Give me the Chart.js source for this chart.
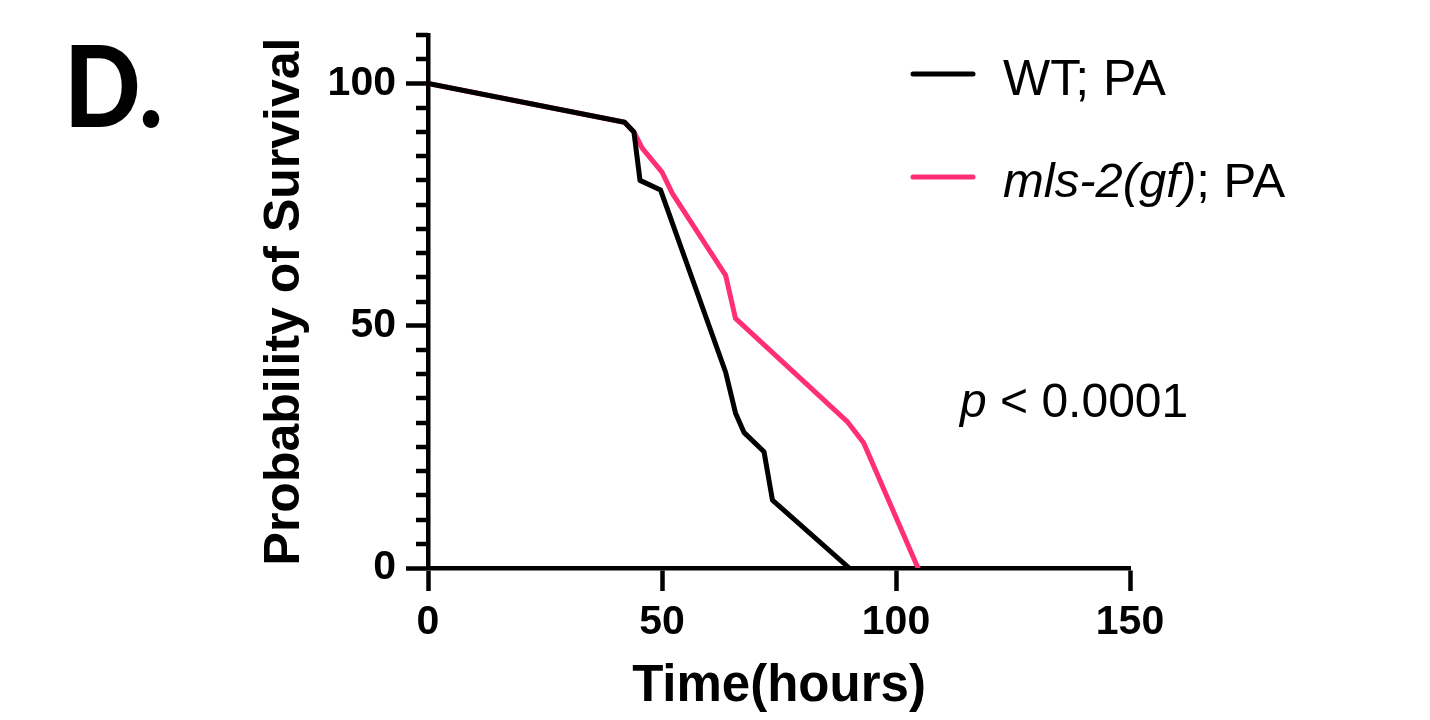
<!DOCTYPE html>
<html>
<head>
<meta charset="utf-8">
<script src="https://cdn.jsdelivr.net/npm/chart.js@4.4.1/dist/chart.umd.min.js"></script>
<style>
html,body{margin:0;padding:0;background:#fff;}
#c{display:block;}
</style>
</head>
<body>
<canvas id="c" width="1430" height="720"></canvas>
<script>
// ---- data ----
const wtHours   = [0, 42, 44, 45.3, 49.7, 63.6, 65.7, 67.5, 71.8, 73.6, 90];
const wtSurv    = [100, 92, 90, 80, 78, 40.4, 32, 28, 24, 14, 0];
const mlsHours  = [0, 42, 44, 45.8, 50, 52.2, 63.6, 65.7, 89.7, 93.1, 104.7];
const mlsSurv   = [100, 92, 90, 86.6, 81.7, 77.3, 60.4, 51.5, 30.1, 25.8, 0];
const xTicks    = [0, 50, 100, 150];
const yTicks    = [0, 50, 100];
const seriesNames = ['WT; PA', 'mls-2(gf); PA'];
const seriesColors = ['#000000', '#ff2e75'];
const panelLabel = 'D.';
const pText = 'p < 0.0001';

const toPts = (xs, ys) => xs.map((x, i) => ({x: x, y: ys[i]}));

const AXIS_LEFT = 428, AXIS_BOTTOM = 568, AREA_TOP = 35, AREA_RIGHT = 1130;
const FONT = '"Liberation Sans", Arial, Helvetica, sans-serif';

const decor = {
  id: 'decor',
  afterDraw(chart) {
    const ctx = chart.ctx;
    const ys = chart.scales.y;
    ctx.save();
    // minor y ticks
    ctx.strokeStyle = '#000';
    ctx.lineWidth = 4.5;
    for (let v = 0; v <= 110; v += 5) {
      if (yTicks.includes(v)) continue;
      const py = Math.round(ys.getPixelForValue(v));
      ctx.beginPath();
      ctx.moveTo(ys.right - 12, py);
      ctx.lineTo(ys.right, py);
      ctx.stroke();
    }
    // panel label
    ctx.fillStyle = '#000';
    ctx.textBaseline = 'alphabetic';
    ctx.textAlign = 'left';
    ctx.save();
    ctx.translate(64, 127);
    ctx.scale(0.9, 1);
    ctx.font = '900 112px Lato, "Open Sans", sans-serif';
    ctx.fillText(panelLabel, 0, 0);
    ctx.restore();
    // legend
    const ds = chart.data.datasets;
    const rows = [74, 177];
    const bases = [95, 197];
    ds.forEach((d, i) => {
      ctx.strokeStyle = d.borderColor;
      ctx.lineWidth = 5;
      ctx.lineCap = 'round';
      ctx.beginPath();
      ctx.moveTo(913, rows[i]);
      ctx.lineTo(973, rows[i]);
      ctx.stroke();
      ctx.fillStyle = '#000';
      const label = d.label;
      const semi = label.indexOf(';');
      if (i === 1) {
        const it = label.slice(0, semi);
        const rest = label.slice(semi);
        ctx.font = 'italic 49px ' + FONT;
        ctx.fillText(it, 1003, bases[i]);
        const w = ctx.measureText(it).width;
        ctx.font = '49px ' + FONT;
        ctx.fillText(rest, 1003 + w, bases[i]);
      } else {
        ctx.font = '50px ' + FONT;
        ctx.fillText(label, 1003, bases[i]);
      }
    });
    // p value
    ctx.font = 'italic 48px ' + FONT;
    ctx.fillText('p', 960, 417);
    const pw = ctx.measureText('p').width;
    ctx.font = '48px ' + FONT;
    ctx.fillText(pText.slice(1), 960 + pw, 417);
    ctx.restore();
  }
};

new Chart(document.getElementById('c'), {
  type: 'scatter',
  data: {
    datasets: [
      {label: seriesNames[0], data: toPts(wtHours, wtSurv), showLine: true,
       borderColor: seriesColors[0], backgroundColor: seriesColors[0],
       borderWidth: 5, pointRadius: 0, borderJoinStyle: 'round', borderCapStyle: 'round', tension: 0},
      {label: seriesNames[1], data: toPts(mlsHours, mlsSurv), showLine: true,
       borderColor: seriesColors[1], backgroundColor: seriesColors[1],
       borderWidth: 5, pointRadius: 0, borderJoinStyle: 'round', borderCapStyle: 'round', tension: 0}
    ]
  },
  options: {
    responsive: false,
    animation: false,
    devicePixelRatio: 1,
    layout: {padding: {top: AREA_TOP, right: 1430 - AREA_RIGHT, left: 0, bottom: 0}},
    plugins: {legend: {display: false}, tooltip: {enabled: false}},
    scales: {
      x: {
        type: 'linear', min: 0, max: 150,
        afterFit(s) { s.height = 720 - AXIS_BOTTOM; },
        afterBuildTicks(s) { s.ticks = xTicks.map(v => ({value: v})); },
        border: {display: true, color: '#000', width: 4.5},
        grid: {display: true, drawOnChartArea: false, tickLength: 23, tickWidth: 4.5, tickColor: '#000'},
        ticks: {color: '#000', font: {family: FONT, size: 41, weight: 'bold'}, padding: 7, maxRotation: 0, autoSkip: false},
        title: {display: true, text: 'Time(hours)', color: '#000', font: {family: FONT, size: 51, weight: 'bold'}, padding: {top: 0, bottom: 2}}
      },
      y: {
        type: 'linear', min: 0, max: 110,
        afterFit(s) { s.width = AXIS_LEFT; },
        afterBuildTicks(s) { s.ticks = yTicks.map(v => ({value: v})); },
        border: {display: true, color: '#000', width: 4.5},
        grid: {display: true, drawOnChartArea: false, tickLength: 22, tickWidth: 4.5, tickColor: '#000'},
        ticks: {color: '#000', font: {family: FONT, size: 41, weight: 'bold'}, padding: 10, autoSkip: false},
        title: {display: true, text: 'Probability of Survival', color: '#000', font: {family: FONT, size: 50, weight: 'bold'}, padding: {top: 255, bottom: 0}}
      }
    }
  },
  plugins: [decor]
});
</script>
</body>
</html>
